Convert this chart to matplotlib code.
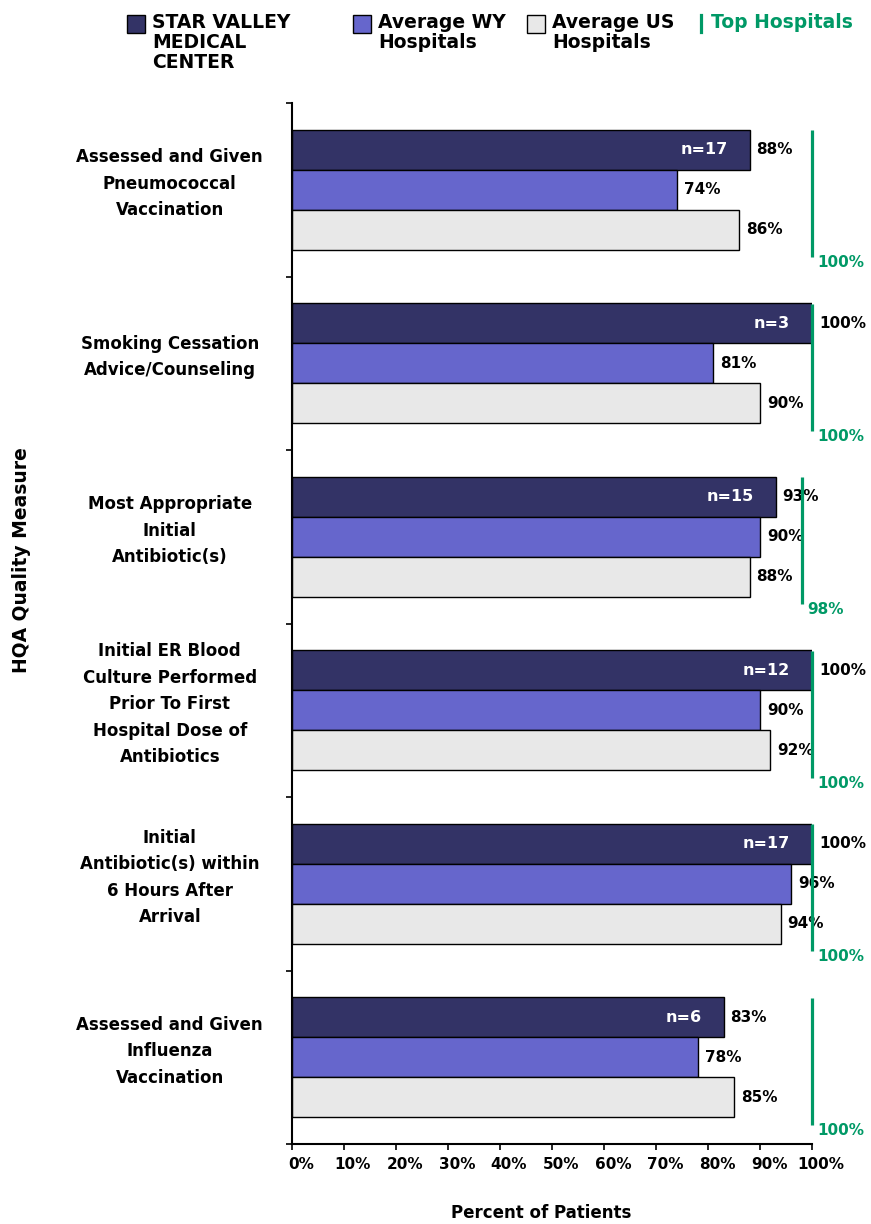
import numpy as np
import matplotlib
matplotlib.use("Agg")
import matplotlib.pyplot as plt
from matplotlib.patches import Rectangle
from matplotlib.lines import Line2D
from matplotlib.transforms import ScaledTranslation, blended_transform_factory

# values
measures = [
    "Assessed and Given\nPneumococcal\nVaccination",
    "Smoking Cessation\nAdvice/Counseling",
    "Most Appropriate\nInitial\nAntibiotic(s)",
    "Initial ER Blood\nCulture Performed\nPrior To First\nHospital Dose of\nAntibiotics",
    "Initial\nAntibiotic(s) within\n6 Hours After\nArrival",
    "Assessed and Given\nInfluenza\nVaccination",
]
star_valley = [88, 100, 93, 100, 100, 83]
avg_wy = [74, 81, 90, 90, 96, 78]
avg_us = [86, 90, 88, 92, 94, 85]
top_hosp = [100, 100, 98, 100, 100, 100]
n_patients = [17, 3, 15, 12, 17, 6]
xticks = np.arange(0, 101, 10)

dark = "#333366"
blue = "#6666cc"
grey = "#e8e8e8"
green = "#009966"

W, H = 871, 1224
fig = plt.figure(figsize=(W / 100, H / 100), dpi=100)
ax = fig.add_axes([292 / W, 80 / H, 520 / W, 1041 / H])

y = np.arange(len(measures)) + 0.5
bh = 0.231
series = [(star_valley, dark), (avg_wy, blue), (avg_us, grey)]
for k, (vals, col) in enumerate(series):
    yy = y + (k - 1) * bh
    ax.barh(yy, vals, height=bh, color=col, edgecolor="black", linewidth=1.0)
    for v, yc in zip(vals, yy):
        ax.annotate(f"{v}%", (v, yc), xytext=(5, 0), textcoords="offset points",
                    ha="left", va="center", fontsize=11, fontweight="bold", zorder=4)

# n= labels inside the facility bar
for v, n, yc in zip(star_valley, n_patients, y - bh):
    ax.annotate(f"n={n}", (v, yc), xytext=(-16, 0), textcoords="offset points",
                ha="right", va="center", fontsize=11.5, fontweight="bold", color="white")

# top hospitals markers
for t, yc in zip(top_hosp, y):
    ax.vlines(t, yc - 0.344, yc + 0.39, color=green, linewidth=2.3, zorder=5, clip_on=False)
    ax.annotate(f"{t}%", (t, yc + 0.42), xytext=(4, 0), textcoords="offset points",
                ha="left", va="center", fontsize=11, fontweight="bold", color=green,
                annotation_clip=False)

ax.set_xlim(0, 100)
ax.set_ylim(len(measures), 0)
ax.set_xticks(xticks)
ax.set_xticklabels([f"{t}%" for t in xticks], fontsize=11, fontweight="bold")
ax.set_yticks(np.arange(len(measures) + 1))
ax.set_yticklabels([])
ax.tick_params(axis="both", direction="out", length=4.5, width=1.2, pad=5)
for lbl in ax.get_xticklabels():
    lbl.set_transform(lbl.get_transform() + ScaledTranslation(9 / 100, 0, fig.dpi_scale_trans))
for s in ["top", "right"]:
    ax.spines[s].set_visible(False)
for s in ["left", "bottom"]:
    ax.spines[s].set_linewidth(1.5)

tr = blended_transform_factory(ax.transAxes, ax.transData)
for m, yc in zip(measures, y):
    ax.text(-0.235, yc - 0.035, m, transform=tr, ha="center", va="center",
            multialignment="center", fontsize=12, fontweight="bold", linespacing=1.6)

fig.text(22 / W, 1 - 560 / H, "HQA Quality Measure", rotation=90, ha="center", va="center",
         fontsize=13.5, fontweight="bold")
fig.text(541 / W, 1 - 1213 / H, "Percent of Patients", ha="center", va="center",
         fontsize=12, fontweight="bold")

# legend drawn in figure pixels
leg = [(127, dark, "STAR VALLEY\nMEDICAL\nCENTER"),
       (353, blue, "Average WY\nHospitals"),
       (527, grey, "Average US\nHospitals")]
for x0, col, txt in leg:
    fig.patches.append(Rectangle((x0 / W, 1 - 33 / H), 18 / W, 18 / H, transform=fig.transFigure,
                                 facecolor=col, edgecolor="black", linewidth=1.0))
    fig.text((x0 + 25) / W, 1 - 13 / H, txt, ha="left", va="top", fontsize=13.5,
             fontweight="bold", linespacing=1.05)
fig.lines.append(Line2D([701 / W, 701 / W], [1 - 15 / H, 1 - 32 / H], transform=fig.transFigure,
                        color=green, linewidth=2.3))
fig.text(711 / W, 1 - 13 / H, "Top Hospitals", ha="left", va="top", fontsize=13.5,
         fontweight="bold", color=green)

fig.savefig("out.png", dpi=100)
